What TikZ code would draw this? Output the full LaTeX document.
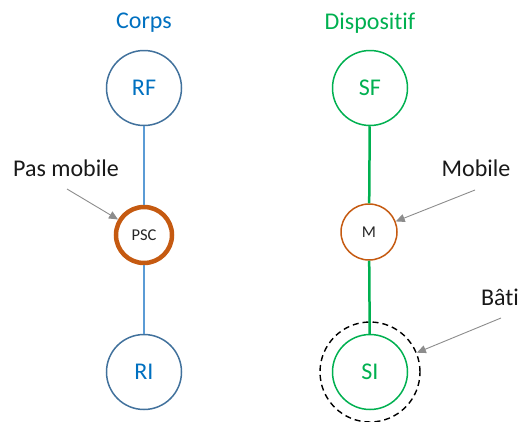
\documentclass[tikz,border=0pt]{standalone}
\usepackage{fontspec}
\setmainfont{Carlito}[Ligatures=CommonOff]
\usepackage{xcolor}
\usepackage{tikz}
\usetikzlibrary{arrows.meta, positioning, shapes.geometric}
\definecolor{corpsblue}{HTML}{0070C0}
\definecolor{ringblue}{HTML}{41719C}
\definecolor{linkblue}{HTML}{5B9BD5}
\definecolor{dispgreen}{HTML}{00B050}
\definecolor{jointorange}{HTML}{C55A11}
\definecolor{pointer}{HTML}{8C8C8C}

\begin{document}
\begin{tikzpicture}[x=1pt, y=-1pt,
    big/.style={font=\fontsize{24}{28}\selectfont},
    small/.style={font=\fontsize{16.5}{19}\selectfont},
    solid/.style={circle, draw, line width=1.5pt, minimum size=75pt, inner sep=0pt, big},
    joint/.style={circle, draw=jointorange, minimum size=56pt, inner sep=0pt, small, text=black!85},
    note/.style={big, text=black!90},
    pointto/.style={draw=pointer, line width=0.9pt, -{Triangle[length=9pt, width=8pt]}}]
    \useasboundingbox (0,0) rectangle (520,421);
    % Corps
    \node[big, text=corpsblue] (corps) at (144,23) {Corps};
    \node[solid, draw=ringblue, text=corpsblue] (rf) at (144,88) {RF};
    \node[joint, line width=4.5pt] (psc) at (144,235) {PSC};
    \node[solid, draw=ringblue, text=corpsblue] (ri) at (144,372) {RI};
    \draw[linkblue, line width=2.2pt] (rf)--(psc) (psc)--(ri);
    % Dispositif
    \node[big, text=dispgreen] (disp) at (370,23) {Dispositif};
    \node[solid, draw=dispgreen, text=dispgreen] (sf) at (370,88) {SF};
    \node[joint, line width=1.5pt] (m) at (369,232) {M};
    \node[solid, draw=dispgreen, text=dispgreen] (si) at (370,372) {SI};
    \node[circle, draw, dash pattern=on 6pt off 4pt, line width=1.4pt, minimum size=100pt] (bati) at (370,372) {};
    \draw[dispgreen, line width=2.5pt] (sf)--(m) (m)--(si);
    % notes
    \node[note] (pasmob) at (66,168) {Pas mobile};
    \node[note] (mobile) at (476,168) {Mobile};
    \node[note] (batilbl) at (500,297) {Bâti};
    \coordinate (p1) at (67,189);
    \coordinate (p2) at (475,190);
    \coordinate (p3) at (501,318);
    \draw[pointto] (p1)--(psc);
    \draw[pointto] (p2)--(m);
    \draw[pointto] (p3)--(bati);
  \end{tikzpicture}
\end{document}
